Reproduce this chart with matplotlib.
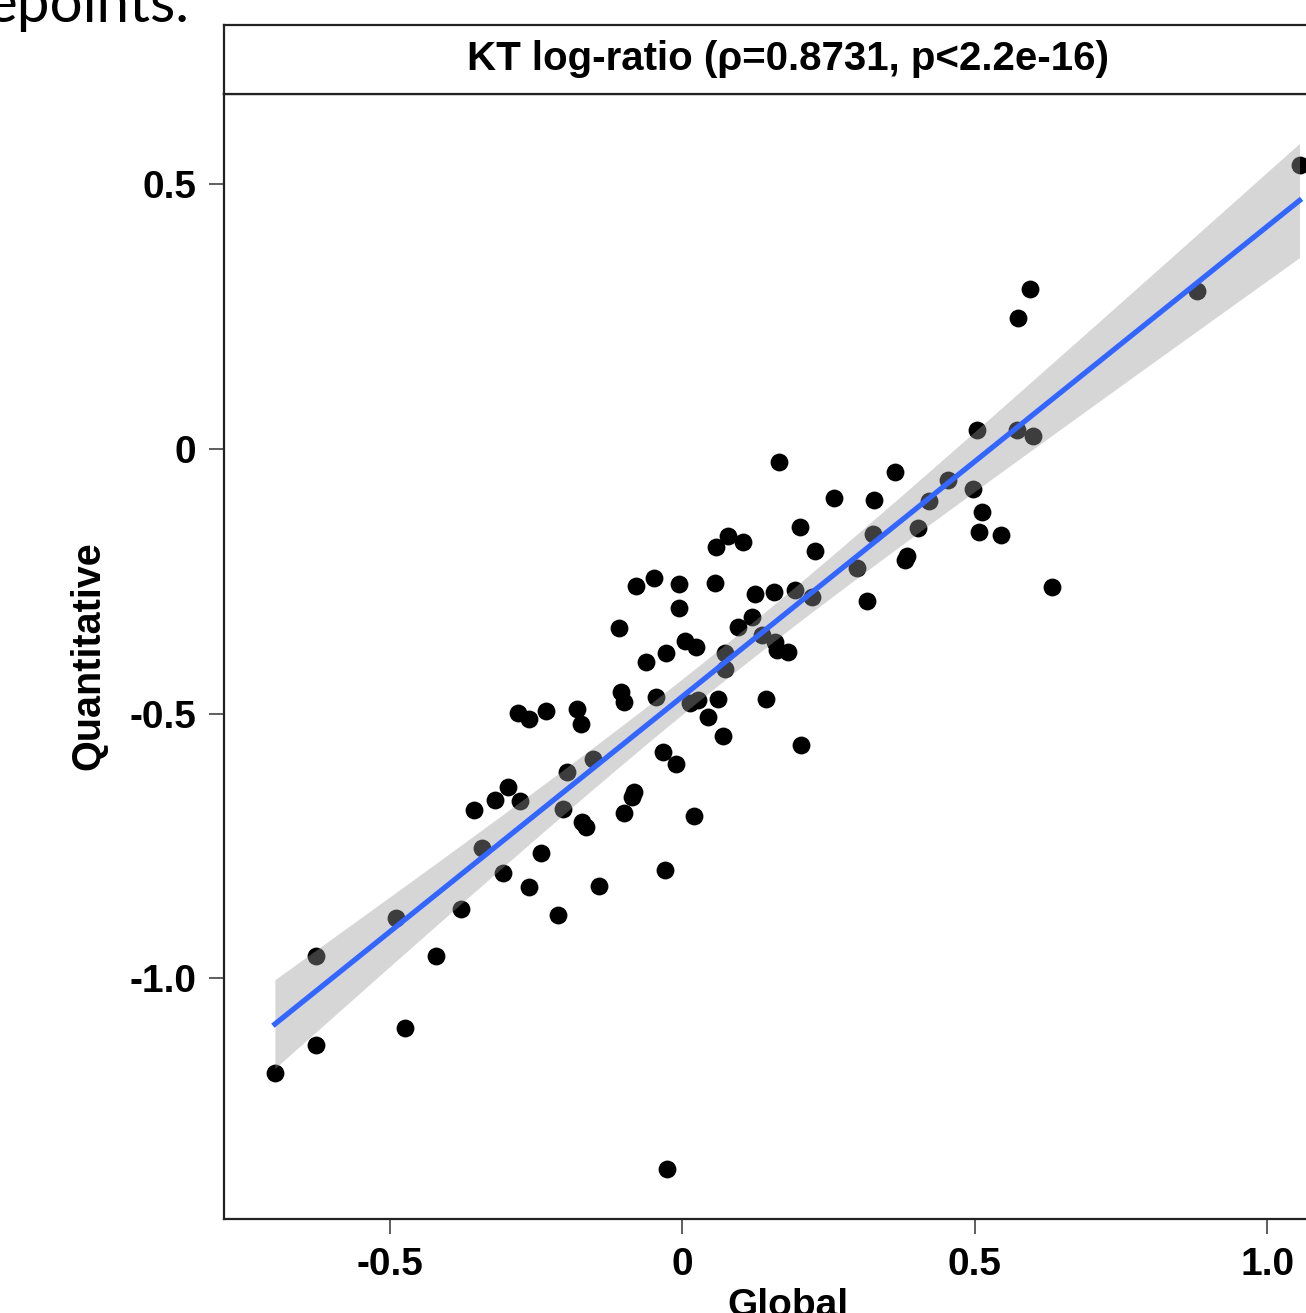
import numpy as np
import matplotlib
matplotlib.use("Agg")
import matplotlib.pyplot as plt

# values (Global vs Quantitative KT log-ratio)
global_x = [1.055, 0.595, 0.574, 0.880, 0.504, 0.573, 0.600, 0.166, 0.364, 0.455,
            0.497, 0.260, 0.328, 0.422, 0.513, 0.202, 0.403, 0.326, 0.508, 0.545,
            0.058, 0.079, 0.104, 0.227, 0.385, 0.381, 0.299, -0.048, -0.079, -0.005,
            0.056, 0.125, 0.157, 0.193, 0.222, 0.632, 0.316, -0.005, 0.120, 0.096,
            -0.108, 0.005, 0.024, 0.137, 0.159, 0.162, 0.181, -0.027, -0.062, 0.074,
            0.074, -0.104, -0.099, -0.044, 0.014, 0.027, 0.062, 0.044, 0.144, -0.280,
            -0.262, -0.232, -0.179, -0.173, -0.032, -0.010, 0.070, 0.203, -0.152, -0.197,
            -0.297, -0.320, -0.277, -0.356, -0.203, -0.082, -0.085, -0.099, -0.171, -0.164,
            0.021, -0.342, -0.241, -0.306, -0.262, -0.142, -0.029, -0.212, -0.378, -0.489,
            -0.626, -0.421, -0.474, -0.626, -0.696, -0.026]
quant_y = [0.537, 0.302, 0.247, 0.299, 0.036, 0.036, 0.025, -0.025, -0.043, -0.059,
           -0.076, -0.093, -0.096, -0.098, -0.119, -0.147, -0.149, -0.161, -0.157, -0.162,
           -0.185, -0.164, -0.176, -0.193, -0.202, -0.210, -0.225, -0.244, -0.259, -0.255,
           -0.253, -0.274, -0.270, -0.266, -0.280, -0.261, -0.287, -0.300, -0.317, -0.336,
           -0.338, -0.363, -0.374, -0.351, -0.365, -0.380, -0.384, -0.385, -0.402, -0.385,
           -0.416, -0.459, -0.478, -0.469, -0.480, -0.474, -0.472, -0.506, -0.472, -0.499,
           -0.510, -0.495, -0.491, -0.520, -0.572, -0.595, -0.542, -0.559, -0.586, -0.610,
           -0.639, -0.663, -0.665, -0.682, -0.680, -0.648, -0.657, -0.688, -0.705, -0.714,
           -0.693, -0.754, -0.763, -0.801, -0.828, -0.826, -0.795, -0.880, -0.869, -0.886,
           -0.958, -0.958, -1.094, -1.126, -1.179, -1.360]

panel_title = "KT log-ratio (\u03c1=0.8731, p<2.2e-16)"
x_ticks = [-0.5, 0, 0.5, 1.0]
x_ticklabels = ["-0.5", "0", "0.5", "1.0"]
y_ticks = [-1.0, -0.5, 0, 0.5]
y_ticklabels = ["-1.0", "-0.5", "0", "0.5"]

plt.rcParams['font.family'] = ['Liberation Sans', 'DejaVu Sans']

W, H = 1306, 1313
fig = plt.figure(figsize=(W / 100, H / 100), dpi=100)
fig.patch.set_facecolor('white')

# panel spans px 224..1351 horizontally, 94..1219 vertically
left, right, top, bottom = 224, 1351, 94, 1219
ax = fig.add_axes([left / W, 1 - bottom / H, (right - left) / W, (bottom - top) / H])
ax.set_xlim(-0.783, 1.143)
ax.set_ylim(-1.455, 0.671)

x = np.array(global_x)
y = np.array(quant_y)
ax.scatter(x, y, s=165, color='black', linewidths=0, zorder=2)

# lm fit with 95% confidence band (like geom_smooth(method='lm'))
n = len(x)
b1, b0 = np.polyfit(x, y, 1)
resid = y - (b0 + b1 * x)
s = np.sqrt(np.sum(resid ** 2) / (n - 2))
xg = np.linspace(x.min(), x.max(), 80)
yg = b0 + b1 * xg
se = s * np.sqrt(1 / n + (xg - x.mean()) ** 2 / np.sum((x - x.mean()) ** 2))
tq = 1.9855  # t quantile 0.975, df ~ 94
ax.fill_between(xg, yg - tq * se, yg + tq * se, color='#999999', alpha=0.4,
                linewidth=0, zorder=3)
ax.plot(xg, yg, color='#3366FF', linewidth=3.8, zorder=4)

ax.set_xticks(x_ticks)
ax.set_xticklabels(x_ticklabels)
ax.set_yticks(y_ticks)
ax.set_yticklabels(y_ticklabels)
ax.tick_params(axis='both', length=11, width=1.1, color='#333333', labelsize=28,
               labelcolor='black')
ax.tick_params(axis='x', pad=9)
ax.tick_params(axis='y', pad=9)
for lab in ax.get_xticklabels() + ax.get_yticklabels():
    lab.set_fontweight('bold')
for sp in ax.spines.values():
    sp.set_color('#222222')
    sp.set_linewidth(1.6)

# facet strip
strip_top = 25
sax = fig.add_axes([left / W, 1 - top / H, (right - left) / W, (top - strip_top) / H])
sax.set_xticks([])
sax.set_yticks([])
sax.set_facecolor('white')
for sp in sax.spines.values():
    sp.set_color('#222222')
    sp.set_linewidth(1.6)
sax.text(0.5, 0.5, panel_title, ha='center', va='center', fontsize=29,
         fontweight='bold', transform=sax.transAxes)

fig.text(88 / W, 1 - 656 / H, "Quantitative", rotation=90, ha='center', va='center',
         fontsize=28.5, fontweight='bold')
fig.text((left + right) / 2 / W, 1 - 1288 / H, "Global", ha='center', va='top',
         fontsize=28, fontweight='bold')

# leftover slide text cut at the top-left corner
fig.text(190 / W, 1 - 22 / H, "epoints.", ha='right', va='baseline', fontsize=42,
         family=['Lato', 'DejaVu Sans'])

fig.savefig("out.png", dpi=100, facecolor='white')
